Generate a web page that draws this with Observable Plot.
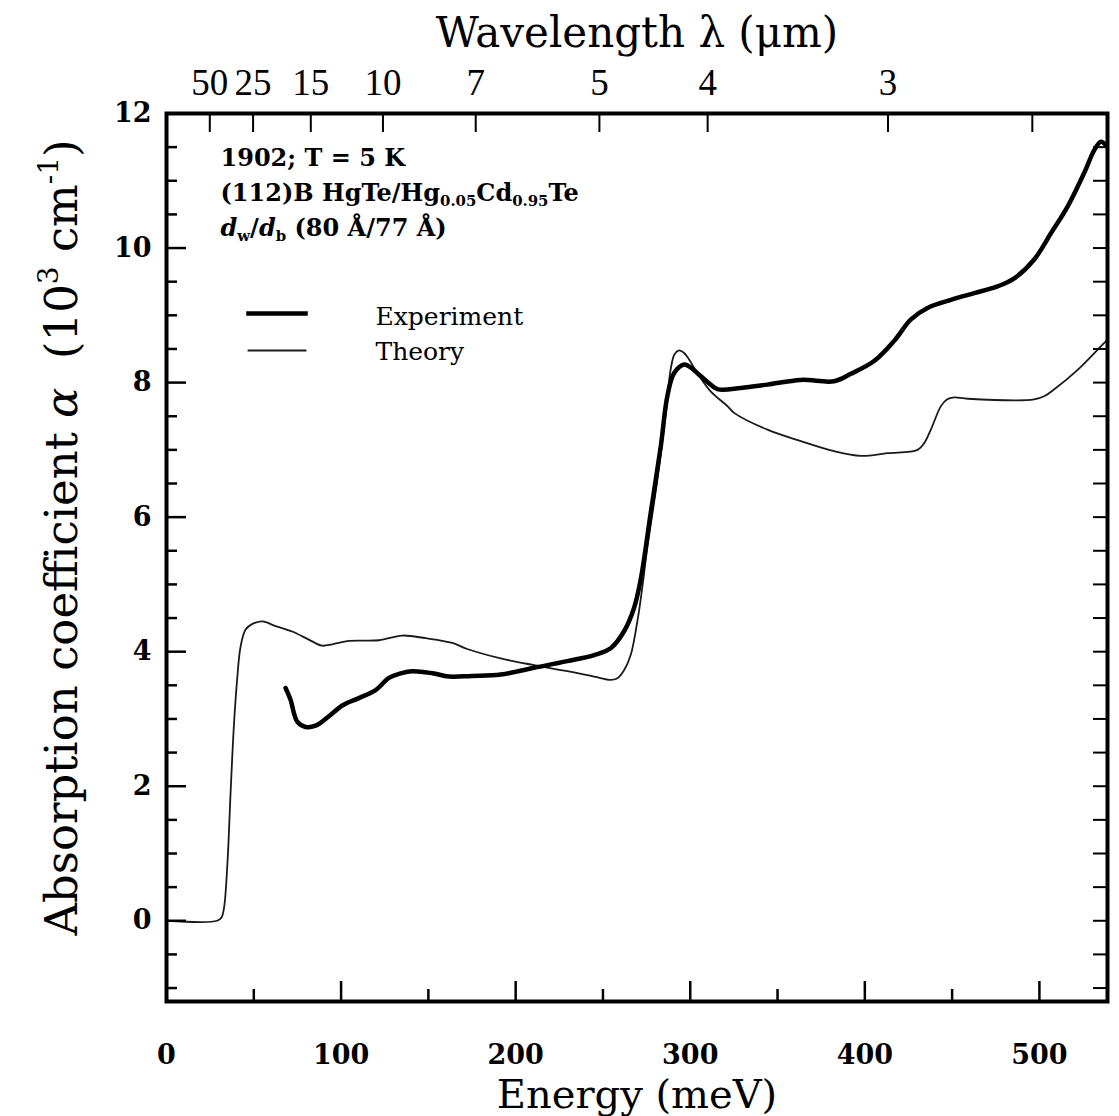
<!DOCTYPE html>
<html>
<head>
<meta charset="utf-8">
<script src="https://cdn.jsdelivr.net/npm/d3@7"></script>
<script src="https://cdn.jsdelivr.net/npm/@observablehq/plot@0.6"></script>
<style>
  html, body { margin: 0; padding: 0; background: #fff; }
  #chart svg { display: block; }
</style>
</head>
<body>
<div id="chart"></div>
<script>
// ---- Data ----
const expEnergy = [68.2, 71, 74.9, 79.7, 85.4, 93, 100.7, 110.2, 119.8, 127.4, 133.1, 140.8, 152.3, 161.8, 175, 191.4, 210.5, 229.6, 245, 254.4, 262, 267.8, 271.6, 277.4, 283.1, 286.9, 290.7, 296.5, 300, 304.1, 311.7, 316, 329, 344.2, 363.3, 382.4, 392, 405.3, 416.8, 426.4, 435.9, 449.3, 462.7, 476, 485.6, 497, 506.6, 516.2, 525.7, 531.5, 535.3, 539];
const expAlpha  = [3.46, 3.29, 2.96, 2.88, 2.9, 3.04, 3.2, 3.31, 3.43, 3.61, 3.67, 3.71, 3.68, 3.63, 3.64, 3.66, 3.76, 3.86, 3.95, 4.05, 4.3, 4.65, 5.07, 6.07, 7.05, 7.8, 8.14, 8.27, 8.23, 8.14, 7.97, 7.9, 7.92, 7.97, 8.04, 8.02, 8.13, 8.32, 8.62, 8.94, 9.11, 9.23, 9.33, 9.43, 9.55, 9.83, 10.22, 10.62, 11.12, 11.46, 11.58, 11.5];

const theoryEnergy = [0, 29, 31.5, 33, 35, 36.7, 38.6, 40.5, 42.4, 45.3, 49, 55, 62.5, 72, 81.5, 89, 95, 104.5, 121.7, 135, 148.4, 163.7, 172.3, 191.4, 210.5, 229.6, 245, 254.4, 258, 262, 265.9, 269.7, 272, 275.5, 281.2, 286, 288.8, 291, 293.6, 296, 298.4, 304.1, 311.7, 321.3, 325.1, 344.2, 363.3, 382.4, 397.7, 413, 430.2, 434, 437.8, 443.6, 447, 451.2, 458.9, 497, 503, 508.5, 521.9, 535.2, 539];
const theoryAlpha  = [0, 0, 0.05, 0.2, 0.9, 1.9, 2.9, 3.6, 4.07, 4.33, 4.41, 4.45, 4.38, 4.3, 4.18, 4.09, 4.11, 4.16, 4.17, 4.24, 4.2, 4.13, 4.04, 3.9, 3.8, 3.71, 3.63, 3.58, 3.6, 3.72, 3.95, 4.45, 4.85, 5.56, 6.56, 7.55, 8.2, 8.42, 8.48, 8.45, 8.38, 8.14, 7.87, 7.65, 7.55, 7.3, 7.13, 6.98, 6.91, 6.95, 7.0, 7.1, 7.3, 7.65, 7.75, 7.78, 7.76, 7.75, 7.8, 7.9, 8.19, 8.54, 8.64];

// ---- Axes / tick lists ----
const energyLabels = [0, 100, 200, 300, 400, 500];
const energyMajorTicks = [100, 200, 300, 400, 500];
const energyMinorTicks = [50, 150, 250, 350, 450];
const alphaLabels = [0, 2, 4, 6, 8, 10, 12];
const alphaMajorTicks = [0, 2, 4, 6, 8, 10];
const alphaMinorTicks = [-1, -0.5, 0.5, 1, 1.5, 2.5, 3, 3.5, 4.5, 5, 5.5, 6.5, 7, 7.5, 8.5, 9, 9.5, 10.5, 11, 11.5];
const wavelengthTicks = [50, 25, 15, 10, 7, 5, 4, 3, 2.5];
const wavelengthLabels = [50, 25, 15, 10, 7, 5, 4, 3];
const HC = 1239.84; // meV * µm

const annotationLines = ["1902; T = 5 K", "(112)B HgTe/Hg_{0.05}Cd_{0.95}Te", "*d*_{w}/*d*_{b} (80 Å/77 Å)"];
const seriesNames = ["Experiment", "Theory"];

const expData = expEnergy.map((e, i) => ({energy: e, alpha: expAlpha[i]}));
const theoryData = theoryEnergy.map((e, i) => ({energy: e, alpha: theoryAlpha[i]}));

// ---- Layout ----
const W = 1119, H = 1116;
const mL = 166, mR = 12, mT = 113, mB = 115;
const innerW = W - mL - mR, innerH = H - mT - mB;

const serif = "DejaVu Serif";
const annotOffsets = [45, 80, 115];

const chart = Plot.plot({
  width: W,
  height: H,
  marginLeft: mL, marginRight: mR, marginTop: mT, marginBottom: mB,
  x: {domain: [0, 539], axis: null},
  y: {domain: [-1.2, 12], axis: null},
  style: {fontFamily: serif, background: "#fff", color: "#000", overflow: "visible"},
  marks: [
    // curves
    Plot.line(theoryData, {x: "energy", y: "alpha", stroke: "#1a1a1a", strokeWidth: 1.8, curve: "catmull-rom", clip: true}),
    Plot.line(expData, {x: "energy", y: "alpha", stroke: "#000", strokeWidth: 4.5, curve: "catmull-rom", clip: true}),

    // bottom ticks (inward)
    Plot.tickX(energyMajorTicks, {x: d => d, insetTop: innerH - 20, stroke: "#000", strokeWidth: 2.5}),
    Plot.tickX(energyMinorTicks, {x: d => d, insetTop: innerH - 12, stroke: "#000", strokeWidth: 2.5}),
    // top wavelength ticks (inward)
    Plot.tickX(wavelengthTicks, {x: d => HC / d, insetBottom: innerH - 19, stroke: "#000", strokeWidth: 2}),
    // left ticks
    Plot.tickY(alphaMajorTicks, {y: d => d, insetRight: innerW - 20, stroke: "#000", strokeWidth: 2.5}),
    Plot.tickY(alphaMinorTicks, {y: d => d, insetRight: innerW - 11, stroke: "#000", strokeWidth: 2.5}),
    // right ticks
    Plot.tickY(alphaMajorTicks.concat(alphaMinorTicks), {y: d => d, insetLeft: innerW - 14, stroke: "#000", strokeWidth: 2}),

    Plot.frame({stroke: "#000", strokeWidth: 4}),

    // bottom tick labels
    Plot.text(energyLabels, {x: d => d, text: d => String(d), frameAnchor: "bottom", dy: 54, lineAnchor: "middle",
      fontSize: 27, fontWeight: "bold"}),
    // left tick labels
    Plot.text(alphaLabels, {y: d => d, text: d => String(d), frameAnchor: "left", dx: -15, textAnchor: "end", lineAnchor: "middle",
      fontSize: 27, fontWeight: "bold"}),
    // top tick labels
    Plot.text(wavelengthLabels, {x: d => HC / d, text: d => String(d), frameAnchor: "top", dy: -30, lineAnchor: "middle",
      fontSize: 37, fontFamily: "Liberation Serif"}),

    // axis titles
    Plot.text(["Wavelength λ (μm)"], {text: d => d, frameAnchor: "top", dy: -80, lineAnchor: "middle", fontSize: 42}),
    Plot.text(["Energy (meV)"], {text: d => d, frameAnchor: "bottom", dy: 94, lineAnchor: "middle", fontSize: 40}),
    Plot.text(["Absorption coefficient *α*  (10^{3} cm^{-1})"], {text: d => d, frameAnchor: "left", rotate: -90,
      textAnchor: "middle", dx: -104, dy: -20, lineAnchor: "middle", fontSize: 45}),

    // annotation
    ...annotationLines.map((line, i) => Plot.text([line], {text: d => d, frameAnchor: "top-left", dx: 54, dy: annotOffsets[i],
      textAnchor: "start", lineAnchor: "middle", fontSize: 24, fontWeight: "bold"})),

    // legend
    Plot.frame({anchor: "top", insetTop: 200, insetLeft: 82, insetRight: innerW - 82 - 57, stroke: "#000", strokeWidth: 4.5}),
    Plot.frame({anchor: "top", insetTop: 237, insetLeft: 82, insetRight: innerW - 82 - 57, stroke: "#1a1a1a", strokeWidth: 1.8}),
    Plot.text([seriesNames[0]], {text: d => d, frameAnchor: "top-left", dx: 209, dy: 203, textAnchor: "start", lineAnchor: "middle", fontSize: 25}),
    Plot.text([seriesNames[1]], {text: d => d, frameAnchor: "top-left", dx: 209, dy: 238, textAnchor: "start", lineAnchor: "middle", fontSize: 25})
  ]
});

document.getElementById("chart").appendChild(chart);

// rich text: _{sub}, ^{sup}, *italic*
const NS = "http://www.w3.org/2000/svg";
chart.querySelectorAll("text").forEach(t => {
  const s = t.textContent;
  if (!/[_^]\{|\*/.test(s)) return;
  const fs = parseFloat(getComputedStyle(t).fontSize) || 24;
  while (t.firstChild) t.removeChild(t.firstChild);
  const re = /([_^])\{([^}]*)\}|\*([^*]*)\*|([^_^*]+)/g;
  let m;
  while ((m = re.exec(s))) {
    const ts = document.createElementNS(NS, "tspan");
    if (m[1]) {
      ts.textContent = m[2];
      ts.setAttribute("font-size", (fs * 0.62).toFixed(1));
      ts.setAttribute("baseline-shift", m[1] === "^" ? (fs * 0.42).toFixed(1) : (-fs * 0.22).toFixed(1));
    } else if (m[3]) {
      ts.textContent = m[3];
      ts.setAttribute("font-style", "italic");
    } else {
      ts.textContent = m[4];
    }
    t.appendChild(ts);
  }
});
</script>
</body>
</html>
